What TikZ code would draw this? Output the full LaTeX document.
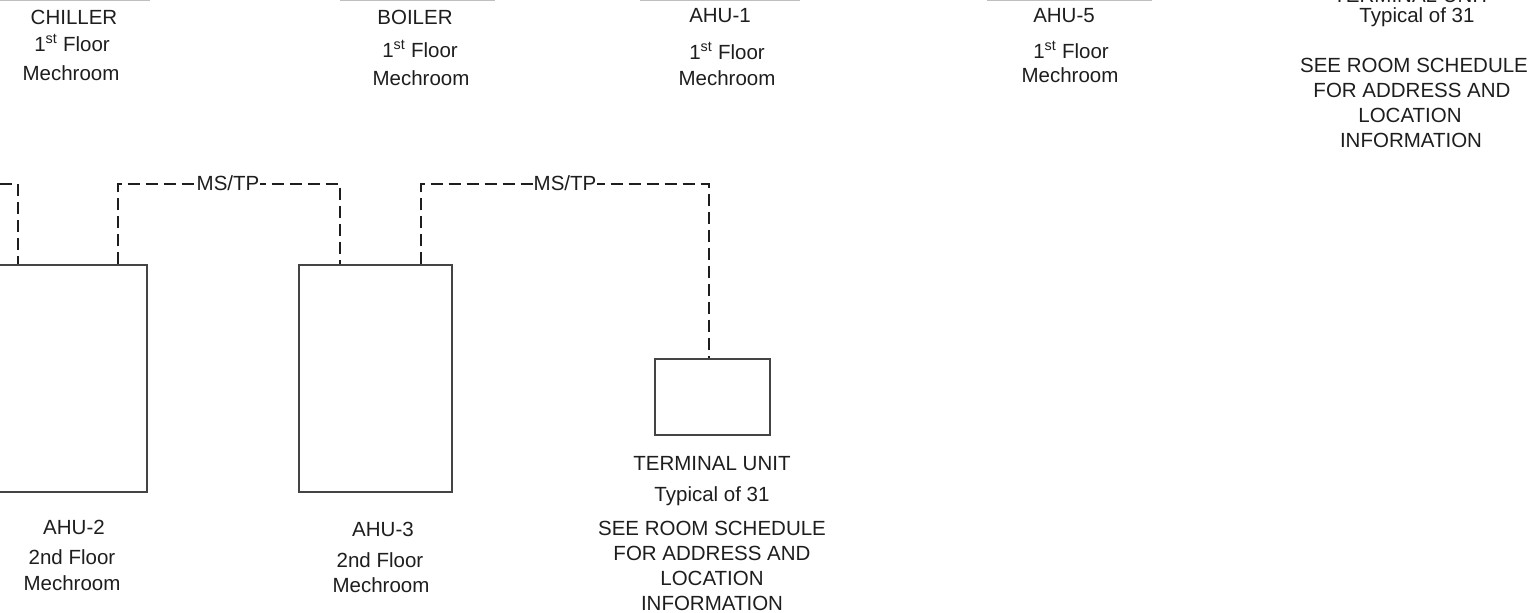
\documentclass[tikz,border=0pt]{standalone}
\usepackage{fontspec}
\setmainfont{Liberation Sans}
\definecolor{ink}{HTML}{1E1E1E}
\definecolor{boxc}{HTML}{444444}
\newcommand\tline[4]{\node[txt] (#1) at (#2,#3) {#4};}
\begin{document}
\begin{tikzpicture}[x=1pt,y=-1pt,
  txt/.style={font=\fontsize{20.5}{24}\selectfont, text=ink, inner sep=0pt, anchor=base},
  unit/.style={draw=boxc, line width=1.3pt, inner sep=0pt},
  bus/.style={draw=ink, line width=1.8pt, dash pattern=on 12pt off 6pt},
  lbl/.style={txt, anchor=center, fill=white, inner xsep=1pt, inner ysep=2pt},
  topedge/.style={draw=black!25, line width=1.2pt}]
\useasboundingbox (0,0) rectangle (1535,613);
\clip (0,0) rectangle (1535,613);
\fill[white] (0,0) rectangle (1535,613);

% bottoms of the cut-off upper boxes
\draw[topedge] (0,0.6) -- (150,0.6);
\draw[topedge] (340,0.6) -- (495,0.6);
\draw[topedge] (640,0.6) -- (800,0.6);
\draw[topedge] (987,0.6) -- (1152,0.6);

% upper labels
\tline{chT}{74}{24}{CHILLER}
\tline{chF}{72}{51}{1\textsuperscript{st} Floor}
\tline{chM}{71}{80}{Mechroom}
\tline{boT}{415}{24}{BOILER}
\tline{boF}{420}{57}{1\textsuperscript{st} Floor}
\tline{boM}{421}{85}{Mechroom}
\tline{a1T}{720}{23}{AHU-1}
\tline{a1F}{727}{59}{1\textsuperscript{st} Floor}
\tline{a1M}{727}{85}{Mechroom}
\tline{a5T}{1064}{23}{AHU-5}
\tline{a5F}{1071}{58}{1\textsuperscript{st} Floor}
\tline{a5M}{1070}{82}{Mechroom}
\tline{t1T}{1412}{2}{TERMINAL UNIT}
\tline{t1A}{1417}{23}{Typical of 31}
\tline{t1B}{1414}{72}{SEE ROOM SCHEDULE}
\tline{t1C}{1412}{97}{FOR ADDRESS AND}
\tline{t1D}{1410}{122}{LOCATION}
\tline{t1E}{1411}{147}{INFORMATION}

% lower units
\node[unit, minimum width=153pt, minimum height=227pt] (ahu2) at (70.5,378.5) {};
\node[unit, minimum width=153pt, minimum height=227pt] (ahu3) at (375.5,378.5) {};
\node[unit, minimum width=115pt, minimum height=76pt] (tu) at (712.5,397) {};

\tline{a2T}{74}{534}{AHU-2}
\tline{a2F}{72}{564}{2nd Floor}
\tline{a2M}{72}{590}{Mechroom}
\tline{a3T}{383}{536}{AHU-3}
\tline{a3F}{380}{567}{2nd Floor}
\tline{a3M}{381}{592}{Mechroom}
\tline{t2T}{712}{470}{TERMINAL UNIT}
\tline{t2A}{712}{501}{Typical of 31}
\tline{t2B}{712}{535}{SEE ROOM SCHEDULE}
\tline{t2C}{712}{560}{FOR ADDRESS AND}
\tline{t2D}{712}{585}{LOCATION}
\tline{t2E}{712}{610}{INFORMATION}

% MS/TP buses
\coordinate (w0) at (0,184);
\coordinate (s1) at (18,184);
\draw[bus] (w0) -- (s1) -- (s1 |- ahu2.north);

\coordinate (b2a) at (118,184);
\coordinate (b2b) at (340,184);
\draw[bus] (b2a |- ahu2.north) -- (b2a) -- (b2b) -- (b2b |- ahu3.north);
\node[lbl] (ms1) at (228,183) {MS/TP};

\coordinate (b3a) at (421,184);
\coordinate (b3b) at (709,184);
\draw[bus] (b3a |- ahu3.north) -- (b3a) -- (b3b) -- (b3b |- tu.north);
\node[lbl] (ms2) at (565,183) {MS/TP};
\end{tikzpicture}
\end{document}
